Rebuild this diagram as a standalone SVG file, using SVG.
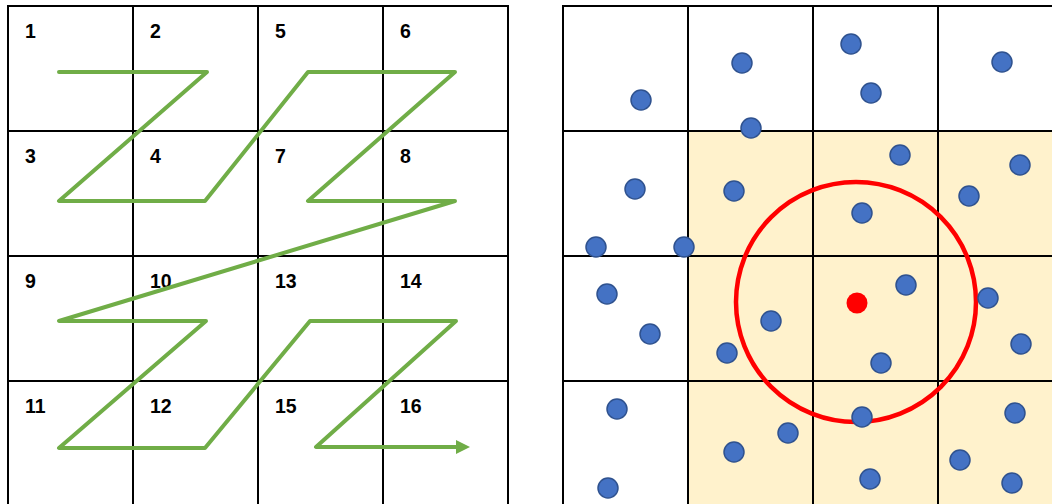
<svg xmlns="http://www.w3.org/2000/svg" width="1052" height="504" viewBox="0 0 1052 504">
<style>
.cell{fill:#FFFFFF;stroke:#000000;stroke-width:2}
.shade{fill:#FFF2CC;stroke:#000000;stroke-width:2}
.lbl{font-family:"Liberation Sans",Arial,sans-serif;font-weight:bold;font-size:19.5px;fill:#000000}
.zig{fill:none;stroke:#70AD47;stroke-width:4;stroke-linejoin:round;stroke-linecap:round}
.pt{fill:#4472C4;stroke:#2F528F;stroke-width:1.5}
</style>
<defs>
<marker id="arr" markerWidth="4" markerHeight="4" refX="0.5" refY="2" orient="auto" markerUnits="strokeWidth">
<path d="M0,0.25 L3.5,2 L0,3.75 Z" fill="#70AD47"/>
</marker>
</defs>
<rect width="1052" height="504" fill="#FFFFFF"/>
<g id="left-grid">
<g id="c1"><rect class="cell" x="8" y="6" width="125" height="125"/><text class="lbl" x="25" y="38">1</text></g>
<g id="c2"><rect class="cell" x="133" y="6" width="125" height="125"/><text class="lbl" x="150" y="38">2</text></g>
<g id="c5"><rect class="cell" x="258" y="6" width="125" height="125"/><text class="lbl" x="275" y="38">5</text></g>
<g id="c6"><rect class="cell" x="383" y="6" width="125" height="125"/><text class="lbl" x="400" y="38">6</text></g>
<g id="c3"><rect class="cell" x="8" y="131" width="125" height="125"/><text class="lbl" x="25" y="163">3</text></g>
<g id="c4"><rect class="cell" x="133" y="131" width="125" height="125"/><text class="lbl" x="150" y="163">4</text></g>
<g id="c7"><rect class="cell" x="258" y="131" width="125" height="125"/><text class="lbl" x="275" y="163">7</text></g>
<g id="c8"><rect class="cell" x="383" y="131" width="125" height="125"/><text class="lbl" x="400" y="163">8</text></g>
<g id="c9"><rect class="cell" x="8" y="256" width="125" height="125"/><text class="lbl" x="25" y="288">9</text></g>
<g id="c10"><rect class="cell" x="133" y="256" width="125" height="125"/><text class="lbl" x="150" y="288">10</text></g>
<g id="c13"><rect class="cell" x="258" y="256" width="125" height="125"/><text class="lbl" x="275" y="288">13</text></g>
<g id="c14"><rect class="cell" x="383" y="256" width="125" height="125"/><text class="lbl" x="400" y="288">14</text></g>
<g id="c11"><rect class="cell" x="8" y="381" width="125" height="125"/><text class="lbl" x="25" y="413">11</text></g>
<g id="c12"><rect class="cell" x="133" y="381" width="125" height="125"/><text class="lbl" x="150" y="413">12</text></g>
<g id="c15"><rect class="cell" x="258" y="381" width="125" height="125"/><text class="lbl" x="275" y="413">15</text></g>
<g id="c16"><rect class="cell" x="383" y="381" width="125" height="125"/><text class="lbl" x="400" y="413">16</text></g>
</g>
<g id="connectors">
<polyline class="zig" marker-end="url(#arr)" points="59,72 207,72 59,201 205,201 308,72 455,72 308,201 455,201 59,321 206,321 59,448 205,448 310,321 456,321 316,447 458,447"/>
</g>
<g id="right-grid">
<rect class="cell" x="563" y="6" width="125" height="125"/>
<rect class="cell" x="688" y="6" width="125" height="125"/>
<rect class="cell" x="813" y="6" width="125" height="125"/>
<rect class="cell" x="938" y="6" width="125" height="125"/>
<rect class="cell" x="563" y="131" width="125" height="125"/>
<rect class="cell" x="563" y="256" width="125" height="125"/>
<rect class="cell" x="563" y="381" width="125" height="125"/>
<rect class="shade" x="688" y="131" width="125" height="125"/>
<rect class="shade" x="813" y="131" width="125" height="125"/>
<rect class="shade" x="938" y="131" width="125" height="125"/>
<rect class="shade" x="688" y="256" width="125" height="125"/>
<rect class="shade" x="813" y="256" width="125" height="125"/>
<rect class="shade" x="938" y="256" width="125" height="125"/>
<rect class="shade" x="688" y="381" width="125" height="125"/>
<rect class="shade" x="813" y="381" width="125" height="125"/>
<rect class="shade" x="938" y="381" width="125" height="125"/>
</g>
<g id="search-radius">
<circle cx="856" cy="302" r="120" fill="none" stroke="#FF0000" stroke-width="4.5"/>
</g>
<g id="points">
<circle class="pt" cx="641" cy="100" r="10"/>
<circle class="pt" cx="742" cy="63" r="10"/>
<circle class="pt" cx="751" cy="128" r="10"/>
<circle class="pt" cx="635" cy="189" r="10"/>
<circle class="pt" cx="734" cy="191" r="10"/>
<circle class="pt" cx="596" cy="247" r="10"/>
<circle class="pt" cx="684" cy="247" r="10"/>
<circle class="pt" cx="851" cy="44" r="10"/>
<circle class="pt" cx="871" cy="93" r="10"/>
<circle class="pt" cx="1002" cy="62" r="10"/>
<circle class="pt" cx="900" cy="155" r="10"/>
<circle class="pt" cx="1020" cy="165" r="10"/>
<circle class="pt" cx="969" cy="196" r="10"/>
<circle class="pt" cx="862" cy="213" r="10"/>
<circle class="pt" cx="607" cy="294" r="10"/>
<circle class="pt" cx="650" cy="334" r="10"/>
<circle class="pt" cx="771" cy="321" r="10"/>
<circle class="pt" cx="727" cy="353" r="10"/>
<circle class="pt" cx="617" cy="409" r="10"/>
<circle class="pt" cx="608" cy="488" r="10"/>
<circle class="pt" cx="734" cy="452" r="10"/>
<circle class="pt" cx="788" cy="433" r="10"/>
<circle class="pt" cx="906" cy="285" r="10"/>
<circle class="pt" cx="988" cy="298" r="10"/>
<circle class="pt" cx="1021" cy="344" r="10"/>
<circle class="pt" cx="881" cy="363" r="10"/>
<circle class="pt" cx="862" cy="417" r="10"/>
<circle class="pt" cx="1015" cy="413" r="10"/>
<circle class="pt" cx="960" cy="460" r="10"/>
<circle class="pt" cx="870" cy="479" r="10"/>
<circle class="pt" cx="1012" cy="483" r="10"/>
</g>
<g id="query-point">
<circle cx="857" cy="303" r="10.5" fill="#FF0000"/>
</g>
</svg>
